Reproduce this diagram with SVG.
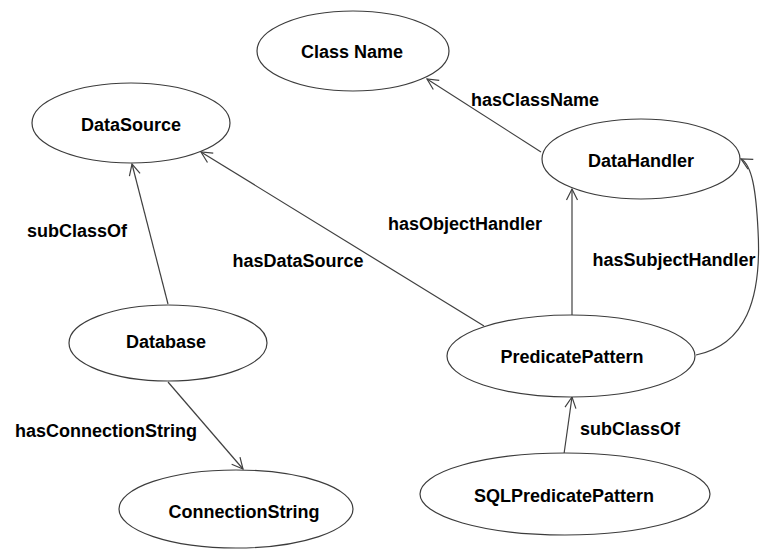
<svg xmlns="http://www.w3.org/2000/svg" width="763" height="549" viewBox="0 0 763 549">
<style>
.n{fill:#fff;stroke:#3c3c3c;stroke-width:1.2}
.t{font-family:"Liberation Sans",Arial,sans-serif;font-weight:bold;font-size:18px;fill:#000;text-anchor:middle}
.e{fill:none;stroke:#404040;stroke-width:1.2;marker-end:url(#a)}
</style>
<defs>
<marker id="a" markerWidth="14" markerHeight="14" refX="12" refY="7" orient="auto" markerUnits="userSpaceOnUse">
<path d="M1,1.5 L12,7 L1,12.5" fill="none" stroke="#404040" stroke-width="1.2"/>
</marker>
</defs>
<g id="edges">
<line class="e" x1="541" y1="152" x2="427" y2="79"/>
<line class="e" x1="572" y1="315" x2="572" y2="189"/>
<path class="e" d="M696,355 C745,345 762,300 758,230 C756,190 752,165 741,159"/>
<line class="e" x1="484" y1="326" x2="201" y2="152"/>
<line class="e" x1="168" y1="304" x2="132" y2="164"/>
<line class="e" x1="168" y1="382" x2="243" y2="469"/>
<line class="e" x1="564" y1="454" x2="572" y2="397"/>
</g>
<g id="labels">
<text class="t" x="535" y="106">hasClassName</text>
<text class="t" x="77" y="237">subClassOf</text>
<text class="t" x="298" y="267">hasDataSource</text>
<text class="t" x="465" y="230">hasObjectHandler</text>
<text class="t" x="674" y="266">hasSubjectHandler</text>
<text class="t" x="106" y="437">hasConnectionString</text>
<text class="t" x="630" y="435">subClassOf</text>
</g>
<g id="ClassName"><ellipse class="n" cx="353" cy="51" rx="96" ry="40"/><text class="t" x="352" y="58">Class Name</text></g>
<g id="DataSource"><ellipse class="n" cx="131" cy="123" rx="99" ry="40"/><text class="t" x="131" y="131">DataSource</text></g>
<g id="DataHandler"><ellipse class="n" cx="641" cy="159" rx="99" ry="40"/><text class="t" x="641" y="167">DataHandler</text></g>
<g id="PredicatePattern"><ellipse class="n" cx="571" cy="356" rx="124" ry="41"/><text class="t" x="572" y="363">PredicatePattern</text></g>
<g id="SQLPredicatePattern"><ellipse class="n" cx="565" cy="494" rx="145" ry="41"/><text class="t" x="564" y="502">SQLPredicatePattern</text></g>
<g id="Database"><ellipse class="n" cx="168" cy="343" rx="99" ry="38"/><text class="t" x="166" y="348">Database</text></g>
<g id="ConnectionString"><ellipse class="n" cx="236" cy="509" rx="117" ry="39"/><text class="t" x="244" y="518">ConnectionString</text></g>
</svg>
